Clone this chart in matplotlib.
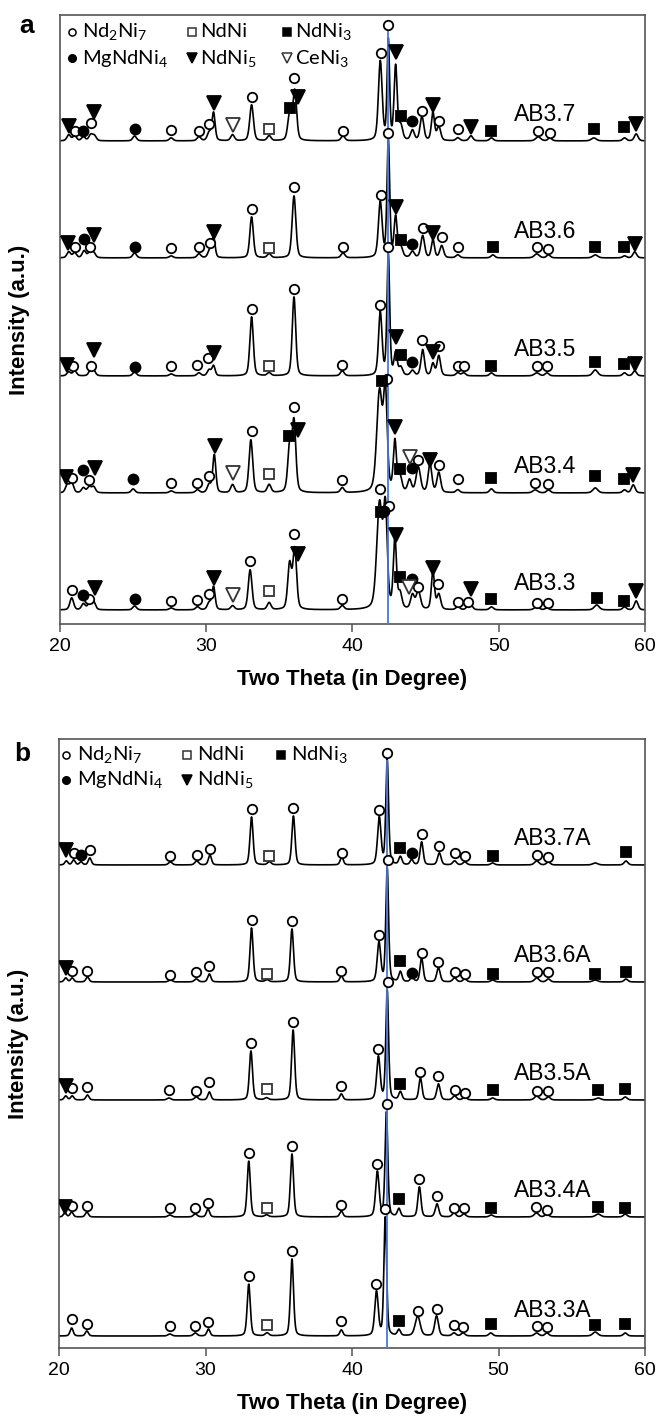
import numpy as np
import matplotlib
matplotlib.use("Agg")
import matplotlib.pyplot as plt

plt.rcParams['font.family'] = ['Liberation Sans', 'DejaVu Sans']
plt.rcParams['mathtext.fontset'] = 'custom'
plt.rcParams['mathtext.rm'] = 'Lato'
plt.rcParams['mathtext.it'] = 'Lato:italic'

# ---------------- data ----------------
# peaks: (2theta, height, fwhm)   marks: (phase, 2theta, height above baseline)
# phases: o=Nd2Ni7  s=NdNi  S=NdNi3  c=MgNdNi4  v=NdNi5  V=CeNi3

names_a = ['AB3.7', 'AB3.6', 'AB3.5', 'AB3.4', 'AB3.3']
base_a = [483, 366, 248, 131, 14]

ab37_peaks = [(20.6, 6, .3), (21.0, 5, .3), (21.6, 4, .3), (22.1, 6, .3), (22.35, 5, .3), (25.1, 5, .3),
              (27.6, 3, .3), (29.5, 4, .3), (30.2, 8, .3), (30.5, 28, .25), (31.8, 6, .3), (33.1, 36, .3),
              (34.3, 5, .3), (35.7, 26, .3), (36.05, 50, .3), (39.35, 5, .3), (41.9, 79, .3), (42.45, 100, .2),
              (42.95, 74, .25), (43.3, 14, .3), (44.1, 10, .3), (44.75, 24, .3), (45.5, 28, .25), (45.9, 14, .3),
              (47.2, 3, .3), (48.1, 5, .3), (49.5, 3, .3), (52.7, 4, .4), (53.5, 3, .3), (56.5, 3, .4),
              (58.6, 3, .3), (59.4, 7, .3)]
ab37_marks = [('v', 20.6, 15), ('o', 21.0, 10), ('c', 21.6, 10), ('o', 22.1, 18), ('v', 22.3, 29),
              ('c', 25.1, 12), ('o', 27.6, 11), ('o', 29.5, 10), ('o', 30.2, 17), ('v', 30.5, 38),
              ('V', 31.8, 16), ('o', 33.1, 44), ('s', 34.3, 12), ('S', 35.7, 33), ('o', 36.0, 63),
              ('v', 36.3, 44), ('o', 39.35, 10), ('o', 41.95, 88), ('o', 42.45, 116), ('v', 43.0, 89),
              ('S', 43.3, 25), ('c', 44.1, 20), ('o', 44.75, 30), ('v', 45.5, 36), ('o', 45.9, 20),
              ('o', 47.2, 12), ('v', 48.1, 14), ('S', 49.5, 10), ('o', 52.7, 10), ('o', 53.5, 8),
              ('S', 56.5, 12), ('S', 58.6, 14), ('v', 59.4, 17)]

ab36_peaks = [(20.6, 6, .3), (21.0, 5, .3), (21.65, 7, .3), (22.05, 6, .3), (22.3, 5, .3), (25.1, 5, .3),
              (27.6, 2, .3), (29.5, 4, .3), (30.25, 8, .3), (30.5, 20, .25), (33.1, 41, .28), (34.3, 4, .3),
              (36.0, 62, .3), (39.35, 5, .3), (41.9, 55, .3), (42.45, 117, .22), (42.95, 40, .25),
              (43.3, 10, .3), (44.1, 6, .3), (44.8, 22, .3), (45.5, 18, .25), (46.1, 12, .3), (47.2, 3, .3),
              (49.6, 3, .3), (52.6, 4, .4), (53.4, 3, .3), (56.6, 3, .4), (58.6, 2, .3), (59.3, 6, .3)]
ab36_marks = [('v', 20.55, 15), ('o', 21.0, 11), ('c', 21.65, 19), ('o', 22.05, 11), ('v', 22.3, 23),
              ('c', 25.1, 11), ('o', 27.6, 10), ('o', 29.5, 11), ('o', 30.25, 15), ('v', 30.55, 26),
              ('o', 33.1, 49), ('s', 34.3, 10), ('o', 36.0, 71), ('o', 39.35, 11), ('o', 41.95, 63),
              ('o', 42.45, 125), ('v', 43.0, 51), ('S', 43.3, 18), ('c', 44.1, 14), ('o', 44.8, 30),
              ('v', 45.5, 25), ('o', 46.1, 21), ('o', 47.2, 11), ('S', 49.6, 11), ('o', 52.6, 11),
              ('o', 53.4, 9), ('S', 56.6, 11), ('S', 58.6, 11), ('v', 59.3, 14)]

ab35_peaks = [(20.6, 4, .3), (21.0, 5, .3), (22.1, 6, .3), (22.3, 5, .3), (25.1, 4, .3), (27.6, 2, .3),
              (29.5, 3, .3), (30.2, 6, .3), (30.5, 10, .25), (33.1, 59, .28), (34.3, 3, .3), (36.0, 79, .28),
              (39.3, 5, .3), (41.9, 63, .28), (42.45, 121, .22), (42.95, 22, .25), (43.3, 8, .3),
              (44.1, 5, .3), (44.8, 26, .28), (45.5, 12, .25), (45.9, 20, .28), (47.2, 3, .3), (47.6, 3, .3),
              (49.5, 3, .3), (52.6, 3, .4), (53.3, 3, .3), (56.6, 6, .4), (58.6, 3, .3), (59.3, 5, .3)]
ab35_marks = [('v', 20.5, 11), ('o', 20.9, 10), ('o', 22.1, 10), ('v', 22.3, 26), ('c', 25.1, 9),
              ('o', 27.6, 10), ('o', 29.4, 11), ('o', 30.1, 18), ('v', 30.5, 23), ('o', 33.1, 67),
              ('s', 34.3, 10), ('o', 36.0, 87), ('o', 39.3, 11), ('o', 41.9, 71), ('o', 42.45, 129),
              ('v', 43.0, 39), ('S', 43.3, 21), ('c', 44.1, 14), ('o', 44.75, 36), ('v', 45.5, 24),
              ('o', 45.9, 30), ('o', 47.2, 10), ('o', 47.6, 10), ('S', 49.5, 10), ('o', 52.6, 10),
              ('o', 53.3, 10), ('S', 56.6, 14), ('S', 58.6, 12), ('v', 59.3, 12)]

ab34_peaks = [(20.5, 8, .3), (20.8, 10, .3), (21.6, 5, .3), (22.0, 6, .3), (22.3, 6, .3), (25.0, 4, .3),
              (27.6, 2, .3), (29.4, 3, .3), (30.2, 8, .3), (30.55, 38, .25), (31.8, 8, .3), (33.05, 53, .3),
              (34.3, 8, .3), (35.7, 45, .3), (36.0, 70, .3), (39.3, 5, .3), (41.85, 100, .45),
              (42.25, 95, .3), (42.9, 50, .25), (43.25, 15, .3), (43.9, 12, .3), (44.5, 25, .35),
              (45.3, 28, .3), (45.9, 20, .3), (47.2, 3, .3), (49.5, 4, .3), (52.5, 3, .4), (53.4, 3, .3),
              (56.6, 5, .4), (58.6, 3, .3), (59.2, 8, .3)]
ab34_marks = [('v', 20.4, 16), ('o', 20.8, 15), ('c', 21.6, 23), ('o', 22.0, 13), ('v', 22.4, 25),
              ('c', 25.0, 14), ('o', 27.6, 10), ('o', 29.4, 10), ('o', 30.2, 17), ('v', 30.6, 47),
              ('V', 31.8, 20), ('o', 33.1, 62), ('s', 34.3, 19), ('S', 35.65, 57), ('o', 36.0, 86),
              ('v', 36.3, 63), ('o', 39.3, 13), ('S', 42.0, 112), ('o', 42.35, 114), ('v', 42.9, 66),
              ('S', 43.25, 24), ('V', 43.9, 36), ('c', 44.05, 25), ('o', 44.5, 33), ('v', 45.3, 33),
              ('o', 45.9, 28), ('o', 47.2, 14), ('S', 49.5, 15), ('o', 52.5, 10), ('o', 53.4, 9),
              ('S', 56.6, 17), ('S', 58.6, 14), ('v', 59.2, 18)]

ab33_peaks = [(20.8, 12, .3), (21.6, 6, .3), (22.0, 6, .3), (22.3, 8, .3), (25.1, 4, .3), (27.6, 2, .3),
              (29.4, 3, .3), (30.2, 7, .3), (30.5, 23, .25), (31.8, 4, .3), (33.0, 40, .3), (34.3, 7, .3),
              (35.7, 45, .3), (36.05, 60, .3), (39.3, 4, .3), (41.85, 105, .45), (42.25, 95, .3),
              (42.9, 70, .25), (43.25, 15, .3), (44.1, 14, .3), (44.5, 18, .35), (45.5, 38, .25),
              (45.9, 15, .3), (47.2, 3, .3), (47.9, 3, .3), (48.1, 4, .3), (49.5, 3, .3), (52.6, 3, .4),
              (53.3, 2, .3), (56.7, 5, .4), (58.6, 3, .3), (59.4, 9, .3)]
ab33_marks = [('o', 20.8, 20), ('c', 21.6, 15), ('o', 22.0, 11), ('v', 22.4, 22), ('c', 25.1, 11),
              ('o', 27.6, 9), ('o', 29.4, 10), ('o', 30.2, 16), ('v', 30.5, 32), ('V', 31.8, 15),
              ('o', 33.0, 49), ('s', 34.3, 19), ('o', 36.0, 76), ('v', 36.3, 56), ('o', 39.3, 11),
              ('o', 41.9, 121), ('S', 41.95, 98), ('c', 42.15, 99), ('o', 42.5, 104), ('v', 42.95, 75),
              ('S', 43.25, 33), ('V', 43.85, 23), ('c', 44.1, 31), ('o', 44.5, 23), ('v', 45.5, 42),
              ('o', 45.85, 26), ('o', 47.2, 8), ('o', 47.9, 8), ('v', 48.1, 21), ('S', 49.5, 11),
              ('o', 52.6, 7), ('o', 53.4, 7), ('S', 56.7, 12), ('S', 58.6, 9), ('v', 59.4, 19)]

names_b = ['AB3.7A', 'AB3.6A', 'AB3.5A', 'AB3.4A', 'AB3.3A']
base_b = [483, 366, 248, 131, 12]

ab37a_peaks = [(20.5, 4, .25), (21.0, 5, .25), (21.5, 3, .25), (22.1, 7, .25), (27.6, 3, .3), (29.4, 4, .3),
               (30.3, 10, .25), (33.14, 48, .25), (34.36, 3, .3), (36.0, 49, .25), (39.3, 8, .25),
               (41.86, 47, .28), (42.4, 105, .22), (43.3, 8, .25), (44.07, 5, .25), (44.75, 23, .25),
               (45.96, 12, .28), (47.0, 4, .3), (47.7, 3, .3), (49.6, 2, .3), (52.6, 4, .35), (53.4, 3, .3),
               (56.6, 2, .4), (58.7, 4, .3)]
ab37a_marks = [('v', 20.5, 15), ('o', 21.0, 12), ('c', 21.5, 10), ('o', 22.1, 15), ('o', 27.6, 9),
               ('o', 29.4, 10), ('o', 30.3, 16), ('o', 33.14, 56), ('s', 34.36, 9), ('o', 36.0, 57),
               ('o', 39.3, 12), ('o', 41.86, 55), ('o', 42.36, 112), ('S', 43.3, 17), ('c', 44.07, 12),
               ('o', 44.75, 31), ('o', 45.96, 19), ('o', 47.0, 12), ('o', 47.7, 9), ('S', 49.6, 9),
               ('o', 52.6, 10), ('o', 53.4, 8), ('S', 58.7, 13)]

ab36a_peaks = [(20.46, 4, .25), (20.9, 4, .25), (21.94, 5, .25), (27.6, 2, .3), (29.37, 3, .3), (30.26, 8, .25),
               (33.14, 54, .25), (34.2, 2, .3), (35.9, 53, .25), (39.27, 6, .25), (41.84, 39, .28),
               (42.4, 114, .22), (43.3, 10, .25), (44.1, 5, .25), (44.75, 24, .25), (45.9, 14, .28),
               (47.0, 4, .3), (47.7, 3, .3), (49.6, 2, .3), (52.6, 4, .35), (53.4, 3, .3), (56.6, 2, .4),
               (58.7, 3, .3)]
ab36a_marks = [('v', 20.46, 14), ('o', 20.9, 11), ('o', 21.94, 11), ('o', 27.6, 7), ('o', 29.37, 10),
               ('o', 30.26, 16), ('o', 33.14, 62), ('s', 34.2, 8), ('o', 35.9, 61), ('o', 39.27, 11),
               ('o', 41.84, 47), ('o', 42.45, 122), ('S', 43.3, 21), ('c', 44.1, 9), ('o', 44.75, 29),
               ('o', 45.9, 20), ('o', 47.0, 10), ('o', 47.7, 8), ('S', 49.6, 8), ('o', 52.6, 10),
               ('o', 53.4, 10), ('S', 56.6, 8), ('S', 58.7, 10)]

ab35a_peaks = [(20.46, 4, .25), (20.9, 4, .25), (21.94, 5, .25), (27.5, 2, .3), (29.37, 3, .3), (30.26, 8, .25),
               (33.1, 49, .25), (34.17, 2, .3), (35.98, 70, .25), (39.27, 6, .25), (41.8, 43, .28),
               (42.4, 110, .22), (43.3, 8, .25), (44.67, 22, .25), (45.9, 16, .28), (47.0, 4, .3),
               (47.7, 3, .3), (49.6, 2, .3), (52.6, 4, .35), (53.4, 3, .3), (56.8, 2, .4), (58.65, 3, .3)]
ab35a_marks = [('v', 20.46, 14), ('o', 20.9, 12), ('o', 21.94, 13), ('o', 27.5, 10), ('o', 29.37, 9),
               ('o', 30.26, 18), ('o', 33.1, 57), ('s', 34.17, 11), ('o', 35.98, 78), ('o', 39.27, 14),
               ('o', 41.8, 51), ('o', 42.45, 118), ('S', 43.3, 16), ('o', 44.67, 28), ('o', 45.9, 24),
               ('o', 47.0, 10), ('o', 47.7, 7), ('S', 49.6, 10), ('o', 52.6, 9), ('o', 53.4, 9),
               ('S', 56.8, 10), ('S', 58.65, 11)]

ab34a_peaks = [(20.4, 4, .25), (20.86, 5, .25), (21.9, 5, .25), (27.56, 2, .3), (29.3, 3, .3), (30.17, 8, .25),
               (32.95, 56, .25), (34.17, 2, .3), (35.9, 63, .25), (39.27, 6, .25), (41.73, 45, .28),
               (42.35, 105, .22), (43.2, 8, .25), (44.6, 30, .25), (45.8, 13, .28), (46.96, 4, .3),
               (47.64, 3, .3), (49.5, 2, .3), (52.58, 4, .35), (53.3, 3, .3), (56.8, 3, .4), (58.65, 3, .3)]
ab34a_marks = [('v', 20.4, 10), ('o', 20.86, 11), ('o', 21.9, 11), ('o', 27.56, 9), ('o', 29.3, 9),
               ('o', 30.17, 14), ('o', 32.95, 64), ('s', 34.17, 9), ('o', 35.9, 71), ('o', 39.27, 12),
               ('o', 41.73, 53), ('o', 42.4, 113), ('S', 43.2, 18), ('o', 44.6, 38), ('o', 45.8, 21),
               ('o', 46.96, 9), ('o', 47.64, 9), ('S', 49.5, 9), ('o', 52.58, 10), ('o', 53.3, 7),
               ('S', 56.8, 10), ('S', 58.65, 9)]

ab33a_peaks = [(20.86, 8, .25), (21.9, 5, .25), (27.56, 2, .3), (29.3, 3, .3), (30.2, 7, .25), (32.95, 52, .25),
               (34.2, 3, .3), (35.9, 77, .25), (39.27, 6, .25), (41.67, 44, .28), (42.27, 119, .22),
               (43.2, 6, .25), (44.48, 20, .4), (45.77, 20, .3), (46.96, 3, .3), (47.58, 3, .3),
               (49.47, 3, .3), (52.6, 3, .35), (53.3, 3, .3), (56.6, 4, .4), (58.65, 3, .3)]
ab33a_marks = [('o', 20.86, 17), ('o', 21.9, 12), ('o', 27.56, 10), ('o', 29.3, 10), ('o', 30.2, 14),
               ('o', 32.95, 60), ('s', 34.2, 11), ('o', 35.9, 85), ('o', 39.27, 15), ('o', 41.67, 52),
               ('o', 42.27, 127), ('S', 43.2, 15), ('o', 44.48, 25), ('o', 45.77, 27), ('o', 46.96, 11),
               ('o', 47.58, 9), ('S', 49.47, 12), ('o', 52.6, 10), ('o', 53.3, 9), ('S', 56.6, 11),
               ('S', 58.65, 12)]

ref_line = 42.42          # blue reference line (2theta)
ref_top_a = 594
ref_top_b = 588

# ---------------- styles ----------------
phase_style = {
    'o': dict(marker='o', mfc='white', mec='black', ms=6.8),
    's': dict(marker='s', mfc='white', mec='#333333', ms=7.2),
    'S': dict(marker='s', mfc='black', mec='black', ms=7.2),
    'c': dict(marker='o', mfc='black', mec='black', ms=7.2),
    'v': dict(marker='v', mfc='black', mec='black', ms=9.5),
    'V': dict(marker='v', mfc='white', mec='#333333', ms=9.5),
}
phase_label = {'o': r'Nd$_2$Ni$_7$', 's': 'NdNi', 'S': r'NdNi$_3$',
               'c': r'MgNdNi$_4$', 'v': r'NdNi$_5$', 'V': r'CeNi$_3$'}

tt = np.arange(20, 60.001, 0.02)


def pattern(peaks):
    y = np.zeros_like(tt)
    for p, h, w in peaks:
        d = (tt - p) / w
        y += h * (0.65 * np.exp(-4 * np.log(2) * d ** 2) + 0.35 / (1 + 4 * d ** 2))
    return y


def draw_panel(ax, names, bases, peaks_list, marks_list, ref_top, legend_codes, leg_pos):
    for name, b, peaks, marks in zip(names, bases, peaks_list, marks_list):
        ax.plot(tt, b + pattern(peaks), color='black', lw=1.2, zorder=2)
        for code in phase_style:
            xs = [m[1] for m in marks if m[0] == code]
            ys = [b + m[2] for m in marks if m[0] == code]
            if xs:
                ax.plot(xs, ys, ls='none', mew=1.3, zorder=4, **phase_style[code])
        ax.text(51.05, b + 26, name, fontsize=16.5, ha='left', va='center')
    ax.vlines(ref_line, 0, ref_top, color='#4a78d6', lw=1.3, zorder=3)

    # legend
    for code, (mx, my, tx) in zip(legend_codes, leg_pos):
        st = dict(phase_style[code])
        st['ms'] = st['ms'] * 0.75
        ax.plot([mx], [my], transform=ax.transAxes, ls='none', mew=1.1, clip_on=False, zorder=5, **st)
        ax.text(tx, my, phase_label[code], transform=ax.transAxes, fontsize=14.5,
                family=['Lato', 'DejaVu Sans'], ha='left', va='center')

    ax.set_xlim(20, 60)
    ax.set_ylim(0, 609)
    ax.set_xticks([20, 30, 40, 50, 60])
    ax.set_yticks([])
    ax.tick_params(axis='x', direction='out', length=6, width=1.1, color='#555555',
                   labelsize=14, pad=4)
    for sp in ax.spines.values():
        sp.set_color('#555555')
        sp.set_linewidth(1.2)
    ax.set_xlabel('Two Theta (in Degree)', fontsize=16, fontweight='bold', labelpad=10)
    ax.set_ylabel('Intensity (a.u.)', fontsize=16, fontweight='bold')
    ax.yaxis.set_label_coords(-0.051, 0.5)


fig = plt.figure(figsize=(6.58, 14.2), dpi=100)
ax1 = fig.add_axes([0.0912, 0.5606, 0.889, 0.4289])
ax2 = fig.add_axes([0.0897, 0.0507, 0.8906, 0.4289])

draw_panel(ax1, names_a, base_a,
           [ab37_peaks, ab36_peaks, ab35_peaks, ab34_peaks, ab33_peaks],
           [ab37_marks, ab36_marks, ab35_marks, ab34_marks, ab33_marks],
           ref_top_a, ['o', 's', 'S', 'c', 'v', 'V'],
           [(0.0205, 0.972, 0.037), (0.226, 0.972, 0.240), (0.388, 0.972, 0.402),
            (0.0205, 0.929, 0.037), (0.226, 0.929, 0.240), (0.388, 0.929, 0.402)])
draw_panel(ax2, names_b, base_b,
           [ab37a_peaks, ab36a_peaks, ab35a_peaks, ab34a_peaks, ab33a_peaks],
           [ab37a_marks, ab36a_marks, ab35a_marks, ab34a_marks, ab33a_marks],
           ref_top_b, ['o', 's', 'S', 'c', 'v'],
           [(0.0115, 0.974, 0.030), (0.219, 0.974, 0.235), (0.378, 0.974, 0.396),
            (0.0115, 0.933, 0.030), (0.219, 0.933, 0.235)])

fig.text(0.040, 0.9768, 'a', fontsize=19, fontweight='bold', ha='center', va='baseline')
fig.text(0.034, 0.4641, 'b', fontsize=19, fontweight='bold', ha='center', va='baseline')

fig.savefig('out.png', dpi=100)
